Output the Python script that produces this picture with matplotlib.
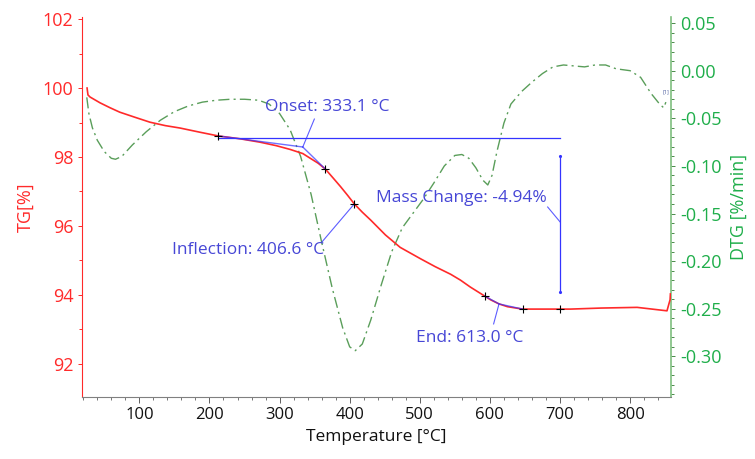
import matplotlib.pyplot as plt
from matplotlib.ticker import MultipleLocator

# TG curve (temperature in °C, mass in %)
tg_temp = [25.4, 26.7, 29.6, 44.0, 58.0, 72.0, 94.0, 115.0, 137.0, 158.0,
           186.0, 212.7, 243.0, 272.0, 295.0, 315.0, 333.1, 344.0, 355.0,
           365.3, 376.0, 387.0, 397.0, 406.6, 418.0, 430.0, 451.0, 472.0,
           501.0, 522.0, 544.0, 558.0, 572.0, 592.4, 601.0, 613.0, 625.0,
           646.7, 700.0, 715.0, 758.6, 810.0, 852.6, 857.0, 857.5]
tg_mass = [100.0, 99.80, 99.74, 99.57, 99.43, 99.30, 99.15, 99.01, 98.91, 98.84,
           98.72, 98.61, 98.53, 98.43, 98.33, 98.22, 98.10, 97.96, 97.82,
           97.65, 97.40, 97.14, 96.89, 96.64, 96.40, 96.17, 95.74, 95.38,
           95.05, 94.82, 94.60, 94.43, 94.23, 93.97, 93.86, 93.74, 93.66,
           93.59, 93.59, 93.59, 93.62, 93.64, 93.54, 93.86, 94.03]

# DTG curve (%/min)
dtg_temp = [25, 28, 33, 40, 50, 60, 66, 75, 90, 110, 130, 150, 170, 190, 210,
            230, 250, 270, 285, 300, 315, 330, 345, 360, 375, 390, 400, 408,
            418, 430, 445, 460, 475, 490, 505, 520, 535, 550, 560, 570, 580,
            590, 597, 603, 610, 620, 630, 645, 660, 675, 690, 705, 720, 735,
            750, 765, 780, 800, 815, 830, 842, 848, 851]
dtg_rate = [-0.028, -0.045, -0.060, -0.073, -0.085, -0.092, -0.093, -0.090,
            -0.078, -0.064, -0.052, -0.043, -0.037, -0.033, -0.031, -0.030,
            -0.030, -0.031, -0.035, -0.045, -0.062, -0.090, -0.130, -0.180,
            -0.228, -0.270, -0.290, -0.294, -0.287, -0.262, -0.225, -0.190,
            -0.165, -0.150, -0.135, -0.118, -0.100, -0.089, -0.088, -0.092,
            -0.102, -0.115, -0.120, -0.110, -0.085, -0.055, -0.035, -0.022,
            -0.012, -0.003, 0.004, 0.006, 0.005, 0.004, 0.006, 0.006, 0.002,
            0.000, -0.007, -0.024, -0.035, -0.039, -0.033]

# evaluation points
onset_t, onset_m = 333.1, 98.29
infl_t, infl_m = 406.6, 96.64
end_t, end_m = 613.0, 93.74
base_level = 98.54
mass_change = -4.94
mark_t = [212.7, 365.3, 406.6, 592.4, 646.7, 700.0]
mark_m = [98.61, 97.65, 96.64, 93.97, 93.59, 93.59]

RED = "#ff2a2a"
GREEN_LINE = "#5a9e5a"
GREEN_TXT = "#1fae4a"
BLUE = "#3434ff"
BLUE_TXT = "#4747d6"

plt.rcParams["font.family"] = ["Open Sans", "DejaVu Sans"]

fig = plt.figure(figsize=(7.55, 4.59), dpi=100)
ax = fig.add_axes([0.109, 0.135, 0.78, 0.828])
ax2 = ax.twinx()
ax.set_zorder(ax2.get_zorder() + 1)
ax.patch.set_visible(False)

ax2.plot(dtg_temp, dtg_rate, color=GREEN_LINE, lw=1.0, ls=(0, (8, 3, 1.5, 3)))
ax2.text(851, -0.022, "[1]", fontsize=4, color="#5060a0", ha="center", va="center")

ax.plot(tg_temp, tg_mass, color=RED, lw=1.2)

# onset construction
ax.plot([mark_t[0], 700], [base_level, base_level], color=BLUE, lw=0.9)
ax.plot([mark_t[0], onset_t], [mark_m[0], onset_m], color=BLUE, lw=1.0, alpha=0.7)
ax.plot([onset_t, mark_t[1]], [onset_m, mark_m[1]], color=BLUE, lw=1.0, alpha=0.7)
ax.plot([onset_t, 349.6], [onset_m, 99.10], color=BLUE, lw=0.8, alpha=0.8)
ax.text(279.6, 99.45, f"Onset: {onset_t:.1f} °C", color=BLUE_TXT, fontsize=12.5,
        ha="left", va="center")

# inflection
ax.plot([infl_t, 360.6], [infl_m, 95.54], color=BLUE, lw=0.8, alpha=0.8)
ax.text(146.7, 95.30, f"Inflection: {infl_t:.1f} °C", color=BLUE_TXT,
        fontsize=12.5, ha="left", va="center")

# mass change bar
ax.plot([700, 700], [98.04, 94.10], color=BLUE, lw=0.9, marker=".", ms=2.5)
ax.plot([682.4, 700], [96.55, 96.12], color=BLUE, lw=0.8, alpha=0.8)
ax.text(438.1, 96.81, f"Mass Change: {mass_change:.2f}%", color=BLUE_TXT,
        fontsize=12.5, ha="left", va="center")

# end construction
ax.plot([mark_t[3], end_t, mark_t[4]], [mark_m[3], end_m, mark_m[4]],
        color=BLUE, lw=1.0, alpha=0.7)
ax.plot([end_t, 605.3], [end_m, 93.16], color=BLUE, lw=0.8, alpha=0.8)
ax.text(493.9, 92.75, f"End: {end_t:.1f} °C", color=BLUE_TXT, fontsize=12.5,
        ha="left", va="center")

ax.plot(mark_t, mark_m, ls="none", marker="+", color="black", ms=6, mew=0.8)

ax.set_xlim(18.6, 858.6)
ax.set_ylim(91.04, 102.06)
ax2.set_ylim(-0.3427, 0.0564)

ax.xaxis.set_major_locator(MultipleLocator(100))
ax.xaxis.set_minor_locator(MultipleLocator(20))
ax.yaxis.set_major_locator(MultipleLocator(2))
ax.yaxis.set_minor_locator(MultipleLocator(1))
ax2.yaxis.set_major_locator(MultipleLocator(0.05))
ax2.yaxis.set_minor_locator(MultipleLocator(0.01))
ax2.yaxis.set_major_formatter(plt.FuncFormatter(lambda v, p: f"{v:.2f}"))

for a in (ax, ax2):
    a.spines["top"].set_visible(False)
ax.spines["right"].set_visible(False)
ax2.spines["left"].set_visible(False)
ax2.spines["bottom"].set_visible(False)
ax.spines["left"].set_color(RED)
ax.spines["bottom"].set_color("#808080")
ax2.spines["right"].set_color("#7fbf7f")
ax2.spines["right"].set_linewidth(1.2)

ax.tick_params(axis="y", which="both", colors=RED, labelcolor=RED, labelsize=13,
               length=3, width=0.7)
ax.tick_params(axis="y", which="minor", length=2)
ax.tick_params(axis="x", which="major", colors="#606060", labelcolor="#111111",
               labelsize=12, length=4, width=0.7)
ax.tick_params(axis="x", which="minor", colors="#606060", length=2, width=0.6)
ax2.tick_params(axis="y", which="both", colors="#4a8a4a", labelcolor=GREEN_TXT,
                labelsize=13, length=3, width=0.7)
ax2.tick_params(axis="y", which="minor", length=2)

ax.set_xlabel("Temperature [°C]", fontsize=12.5, color="#111111", labelpad=4)
ax.set_ylabel("TG[%]", fontsize=13, color=RED, labelpad=6)
ax2.set_ylabel("DTG [%/min]", fontsize=13, color=GREEN_TXT, labelpad=6)

fig.savefig("out.png", dpi=100)
